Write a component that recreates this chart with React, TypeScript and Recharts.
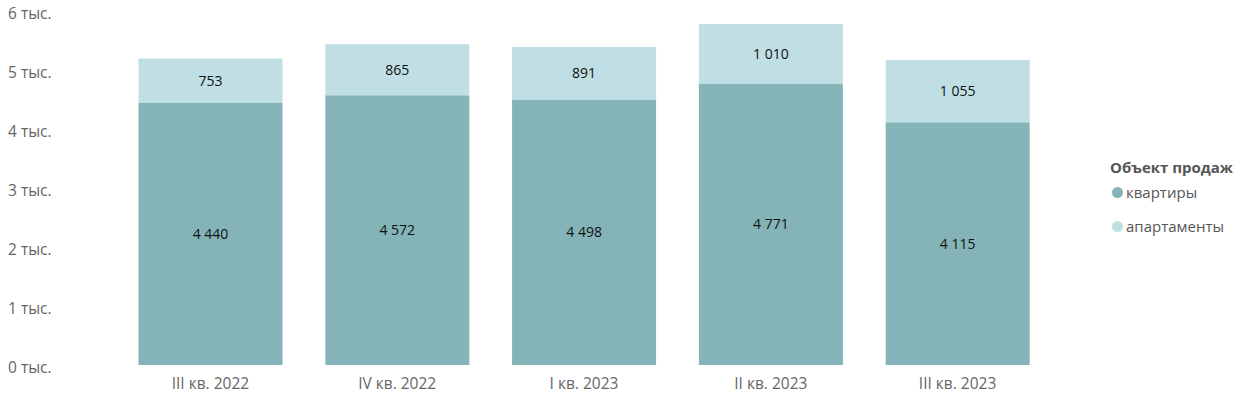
import React from 'react';
import { BarChart, Bar, XAxis, YAxis, LabelList } from 'recharts';

const quarters = ['III кв. 2022', 'IV кв. 2022', 'I кв. 2023', 'II кв. 2023', 'III кв. 2023'];
const flats = [4440, 4572, 4498, 4771, 4115];
const apartments = [753, 865, 891, 1010, 1055];
const yTicks = [0, 1000, 2000, 3000, 4000, 5000, 6000];

const FONT = '"Segoe UI", "Open Sans", "Noto Sans", sans-serif';
const FLAT_COLOR = '#84b4b7';
const APT_COLOR = '#bfdfe5';

const data = quarters.map((q, i) => ({ quarter: q, flats: flats[i], apartments: apartments[i] }));

const fmt = (v: number) => String(v).replace(/\B(?=(\d{3})+(?!\d))/g, ' ');

const YTick = (props: any) => {
    const { y, payload } = props;
    return (
        <text x={8} y={y} dy={8} textAnchor="start" fill="#666" fontSize={15.5} fontFamily={FONT}>
            {payload.value / 1000} тыс.
        </text>
    );
};

const XTick = (props: any) => {
    const { x, y, payload } = props;
    return (
        <text x={x} y={y} dy={16} textAnchor="middle" fill="#666" fontSize={15.5} fontFamily={FONT}>
            {payload.value}
        </text>
    );
};

const LegendBox = () => (
    <div style={{ position: 'absolute', left: 1110, top: 157, width: 135, fontFamily: FONT, color: '#555', fontSize: 15 }}>
        <div style={{ fontWeight: 'bold', height: 20, lineHeight: '20px' }}>Объект продаж</div>
        <div style={{ display: 'flex', alignItems: 'center', height: 20, marginTop: 5, marginLeft: 2 }}>
            <span style={{ width: 11, height: 11, borderRadius: 6, background: FLAT_COLOR, marginRight: 3 }} />
            квартиры
        </div>
        <div style={{ display: 'flex', alignItems: 'center', height: 20, marginTop: 14, marginLeft: 2 }}>
            <span style={{ width: 11, height: 11, borderRadius: 6, background: APT_COLOR, marginRight: 3 }} />
            апартаменты
        </div>
    </div>
);

export default function App() {
    return (
        <div style={{ position: 'absolute', left: 0, top: 0, width: 1245, height: 400 }}>
            <BarChart
                width={1245}
                height={400}
                data={data}
                margin={{ top: 11, right: 194, left: 0, bottom: 0 }}
                barCategoryGap="11.5%"
            >
                <YAxis
                    width={117}
                    domain={[0, 6000]}
                    ticks={yTicks}
                    axisLine={false}
                    tickLine={false}
                    tick={<YTick />}
                />
                <XAxis
                    dataKey="quarter"
                    height={35}
                    axisLine={false}
                    tickLine={false}
                    tick={<XTick />}
                />
                <Bar dataKey="flats" stackId="a" fill={FLAT_COLOR} isAnimationActive={false}>
                    <LabelList dataKey="flats" position="center" formatter={(v: any) => fmt(v)} fill="#111" fontSize={14} fontFamily={FONT} />
                </Bar>
                <Bar dataKey="apartments" stackId="a" fill={APT_COLOR} isAnimationActive={false}>
                    <LabelList dataKey="apartments" position="center" formatter={(v: any) => fmt(v)} fill="#111" fontSize={14} fontFamily={FONT} />
                </Bar>
            </BarChart>
            <LegendBox />
        </div>
    );
}
